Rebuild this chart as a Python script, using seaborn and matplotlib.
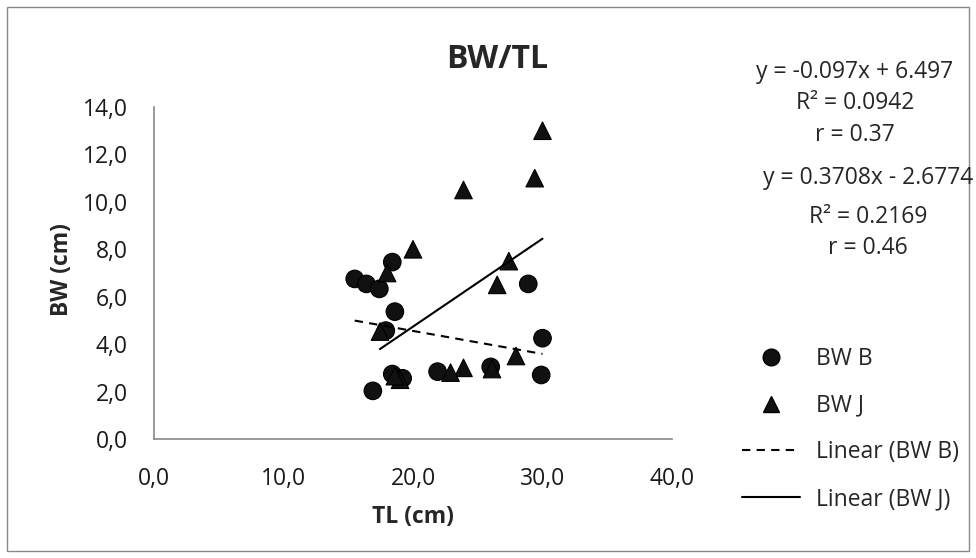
import numpy as np
import pandas as pd
import matplotlib
matplotlib.use("Agg")
import matplotlib.pyplot as plt
import matplotlib.patches as mpatches
from matplotlib.lines import Line2D
import matplotlib.ticker as mticker
import seaborn as sns

# BW B (circles)
tl_b = [15.5, 16.4, 17.4, 18.4, 28.9, 18.6, 17.9, 30.0, 18.4, 19.2, 21.9, 26.0, 29.9, 16.9]
bw_b = [6.75, 6.54, 6.33, 7.46, 6.54, 5.37, 4.57, 4.25, 2.74, 2.56, 2.84, 3.04, 2.70, 2.03]
# BW J (triangles)
tl_j = [30.0, 29.4, 23.9, 20.0, 18.0, 27.4, 26.5, 17.45, 27.95, 23.9, 22.9, 26.1, 19.0, 18.6]
bw_j = [13.0, 11.0, 10.5, 8.0, 7.0, 7.5, 6.5, 4.53, 3.5, 3.0, 2.8, 2.95, 2.5, 2.65]

# trendline coefficients from the chart labels
coef_b = (-0.097, 6.497)
coef_j = (0.3708, -2.6774)
eq_b = ["y = -0.097x + 6.497", "R² = 0.0942", "r = 0.37"]
eq_j = ["y = 0.3708x - 2.6774", "R² = 0.2169", "r = 0.46"]

x_ticks = [0, 10, 20, 30, 40]
y_ticks = [0, 2, 4, 6, 8, 10, 12, 14]

sns.set_theme(style="white")
plt.rcParams["font.family"] = ["Open Sans", "DejaVu Sans"]

FS = 16.5
W, H = 976, 558
fig = plt.figure(figsize=(W / 100, H / 100), dpi=100)
ax = fig.add_axes([154 / W, 1 - 439 / H, (672 - 154) / W, (439 - 107) / H])

pts = pd.concat([
    pd.DataFrame({"TL": tl_b, "BW": bw_b, "series": "BW B"}),
    pd.DataFrame({"TL": tl_j, "BW": bw_j, "series": "BW J"}),
])
sns.scatterplot(data=pts, x="TL", y="BW", style="series", markers={"BW B": "o", "BW J": "^"},
                color="#111111", edgecolor="black", linewidth=0.8, s=160, legend=False, ax=ax)


def trend(xs, coef):
    xr = np.array([min(xs), max(xs)])
    return pd.DataFrame({"TL": xr, "BW": coef[0] * xr + coef[1]})


sns.lineplot(data=trend(tl_b, coef_b), x="TL", y="BW", color="black",
             linestyle=(0, (4, 3)), linewidth=1.5, ax=ax)
sns.lineplot(data=trend(tl_j, coef_j), x="TL", y="BW", color="black",
             linewidth=1.5, ax=ax)

ax.set_xlim(0, 40)
ax.set_ylim(0, 14)
ax.set_xticks(x_ticks)
ax.set_yticks(y_ticks)
fmt = mticker.FuncFormatter(lambda v, _: f"{v:.1f}".replace(".", ","))
ax.xaxis.set_major_formatter(fmt)
ax.yaxis.set_major_formatter(fmt)
ax.tick_params(axis="both", length=0, labelsize=FS, colors="#1a1a1a")
ax.tick_params(axis="y", pad=19)
ax.tick_params(axis="x", pad=20)
for side in ["top", "right"]:
    ax.spines[side].set_visible(False)
for side in ["left", "bottom"]:
    ax.spines[side].set_color("#898989")
    ax.spines[side].set_linewidth(1.2)
ax.grid(False)

ax.set_xlabel("TL (cm)", fontsize=FS, fontweight="bold")
ax.set_ylabel("BW (cm)", fontsize=FS, fontweight="bold")
ax.xaxis.set_label_coords(0.5, -0.2)
ax.yaxis.set_label_coords(-0.155, 0.51)

fig.text(497 / W, 1 - 60 / H, "BW/TL", ha="center", va="center",
         fontsize=23, fontweight="bold")

for i, line in enumerate(eq_b):
    fig.text(855 / W, 1 - [72, 103, 135][i] / H, line, ha="center", va="center", fontsize=FS)
for i, line in enumerate(eq_j):
    fig.text(868 / W, 1 - [178, 217, 248][i] / H, line, ha="center", va="center", fontsize=FS)

handles = [
    Line2D([], [], marker="o", color="#111111", markeredgecolor="black", linestyle="none", markersize=12),
    Line2D([], [], marker="^", color="#111111", markeredgecolor="black", linestyle="none", markersize=12),
    Line2D([], [], color="black", linestyle=(0, (4, 3)), linewidth=1.5),
    Line2D([], [], color="black", linewidth=1.5),
]
labels = ["BW B", "BW J", "Linear (BW B)", "Linear (BW J)"]
fig.legend(handles, labels, loc="center left", bbox_to_anchor=(742 / W, 1 - 429 / H),
           frameon=False, fontsize=FS, handlelength=2.55, labelspacing=1.0,
           handletextpad=0.7, borderpad=0, borderaxespad=0)

fig.add_artist(mpatches.Rectangle((7 / W, 7 / H), (969 - 7) / W, (551 - 7) / H,
                                  transform=fig.transFigure, fill=False,
                                  edgecolor="#898989", linewidth=1.0))

fig.savefig("out.png", dpi=100)
